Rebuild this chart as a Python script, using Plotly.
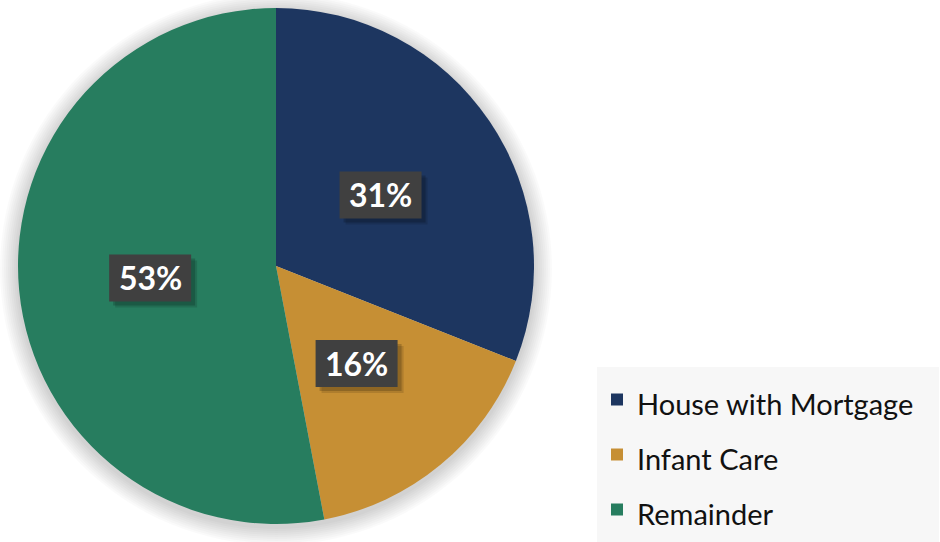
import math
import plotly.graph_objects as go

labels = ["House with Mortgage", "Infant Care", "Remainder"]
values = [31, 16, 53]
colors = ["#1D3660", "#C68F34", "#277D5F"]

W, H = 940, 542
cx, cy, R = 276, 266, 258

fig = go.Figure()
fig.add_trace(go.Pie(
    labels=[f"<span style='font-size:29px'>{l}</span>&nbsp;&nbsp;" for l in labels],
    values=values, sort=False, direction="clockwise", rotation=0,
    marker=dict(colors=colors, line=dict(width=0)),
    textinfo="none", hoverinfo="percent",
    domain=dict(x=[(cx - R) / W, (cx + R) / W], y=[1 - (cy + R) / H, 1 - (cy - R) / H]),
))

# soft shadow around pie
shapes = []
for grow in range(2, 20, 2):
    r = R + grow
    shapes.append(dict(type="circle", xref="paper", yref="paper", layer="below",
                       x0=(cx - r) / W, x1=(cx + r) / W, y0=1 - (cy + 3 + r) / H, y1=1 - (cy + 3 - r) / H,
                       fillcolor="rgba(0,0,0,0.018)", line=dict(width=0)))

annotations = []
total = sum(values)
cum = 0
bw, bh = 82, 47
for v in values:
    mid = (cum + v / 2) / total * 2 * math.pi
    cum += v
    rr = 0.49 * R
    px = cx + math.sin(mid) * rr
    py = cy - math.cos(mid) * rr
    txt = f"{round(v / total * 100)}%"
    # box shadow
    for k, a in [(6, 0.12), (4, 0.18)]:
        shapes.append(dict(type="rect", xref="paper", yref="paper",
                           x0=(px - bw / 2 + k) / W, x1=(px + bw / 2 + k) / W,
                           y0=1 - (py + bh / 2 + k) / H, y1=1 - (py - bh / 2 + k) / H,
                           fillcolor=f"rgba(0,0,0,{a})", line=dict(width=0), layer="above"))
    shapes.append(dict(type="rect", xref="paper", yref="paper",
                       x0=(px - bw / 2) / W, x1=(px + bw / 2) / W,
                       y0=1 - (py + bh / 2) / H, y1=1 - (py - bh / 2) / H,
                       fillcolor="#404040", line=dict(width=0), layer="above"))
    annotations.append(dict(x=px / W, y=1 - py / H, xref="paper", yref="paper",
                            xanchor="center", yanchor="middle",
                            text=f"<b>{txt}</b>", showarrow=False,
                            font=dict(family="Lato", size=32, color="white")))

fig.update_layout(
    width=W, height=H, margin=dict(l=0, r=0, t=0, b=0),
    paper_bgcolor="white", plot_bgcolor="white",
    shapes=shapes, annotations=annotations,
    showlegend=True,
    legend=dict(x=597 / W, y=0, xanchor="left", yanchor="bottom", valign="bottom",
                bgcolor="#F7F7F7", font=dict(family="Lato", size=40, color="#111111"),
                itemwidth=30, borderwidth=0),
)

fig.write_html("out.html")
